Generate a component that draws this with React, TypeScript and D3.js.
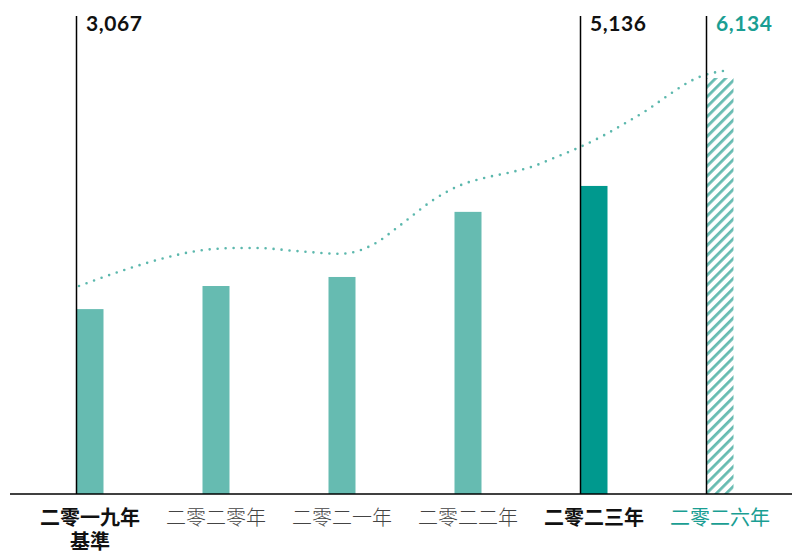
import React from 'react';
import * as d3 from 'd3';

const categories = ['二零一九年', '二零二零年', '二零二一年', '二零二二年', '二零二三年', '二零二六年'];
const subLabels = ['基準', '', '', '', '', ''];
const barValues = [3067, 3450, 3600, 4680, 5110, 6900];
const labelValues: (number | null)[] = [3067, null, null, null, 5136, 6134];
const markedIdx = [0, 4, 5];

// dotted trend: position (category index units) and value
const trendT = [0.02, 0.4, 0.7, 0.95, 1.27, 1.43, 1.75, 2.1, 2.36, 2.57, 2.83, 3.05, 3.23, 3.42, 3.61, 3.79, 3.98, 4.19, 4.37, 4.54, 4.7, 4.82, 4.94, 5.05, 5.19];
const trendV = [3450, 3730, 3915, 4030, 4080, 4080, 4030, 3985, 4145, 4460, 4875, 5125, 5240, 5325, 5425, 5575, 5740, 5955, 6170, 6385, 6620, 6785, 6915, 6985, 7035];

const W = 792, H = 554;
const LIGHT = '#66bbb1';
const DARK = '#00998e';
const TEAL_TXT = '#1a9e93';

export default function App() {
  const x = d3.scaleLinear().domain([0, 5]).range([76.5, 706.5]);
  const y = d3.scaleLinear().domain([0, 7000]).range([494, 72]);
  const barW = 27;
  const baseY = y(0);

  const line = d3.line<number>()
    .x((_, i) => x(trendT[i]))
    .y((d) => y(d))
    .curve(d3.curveMonotoneX);

  const labelColor = (i: number) => (i === 5 ? TEAL_TXT : i === 0 || i === 4 ? '#111' : '#444');
  const labelWeight = (i: number) => (i === 0 || i === 4 ? 700 : i === 5 ? 400 : 300);

  return (
    <svg width={W} height={H} style={{ position: 'absolute', left: 0, top: 0, background: '#fff' }}>
      <defs>
        <pattern id="hatch" patternUnits="userSpaceOnUse" width={7} height={7} patternTransform="rotate(45)">
          <rect x={0} y={0} width={2.8} height={7} fill={LIGHT} />
        </pattern>
      </defs>
      {barValues.map((v, i) => (
        <rect
          key={i}
          x={x(i)}
          y={y(v)}
          width={barW}
          height={baseY - y(v)}
          fill={i === 5 ? 'url(#hatch)' : i === 4 ? DARK : LIGHT}
        />
      ))}
      <path
        d={line(trendV) || ''}
        fill="none"
        stroke="#5cb8ad"
        strokeWidth={2.6}
        strokeLinecap="round"
        strokeDasharray="0 8"
      />
      {markedIdx.map((i) => (
        <line key={i} x1={x(i)} x2={x(i)} y1={16} y2={baseY} stroke="#000" strokeWidth={1.5} />
      ))}
      <line x1={10} x2={W} y1={baseY} y2={baseY} stroke="#000" strokeWidth={1.5} />
      {labelValues.map((v, i) =>
        v == null ? null : (
          <text
            key={i}
            x={x(i) + 9.5}
            y={31}
            fontFamily="Lato, 'Open Sans', sans-serif"
            fontWeight={700}
            fontSize={21}
            letterSpacing={0.6}
            fill={i === 5 ? TEAL_TXT : '#111'}
          >
            {d3.format(',')(v)}
          </text>
        )
      )}
      {categories.map((c, i) => (
        <text
          key={c}
          fontFamily="'Noto Sans CJK TC', 'Noto Sans CJK SC', sans-serif"
          fontSize={20}
          textAnchor="middle"
          fill={labelColor(i)}
          fontWeight={labelWeight(i)}
        >
          <tspan x={x(i) + barW / 2} y={525}>{c}</tspan>
          {subLabels[i] && (
            <tspan x={x(i) + barW / 2} y={549}>{subLabels[i]}</tspan>
          )}
        </text>
      ))}
    </svg>
  );
}
